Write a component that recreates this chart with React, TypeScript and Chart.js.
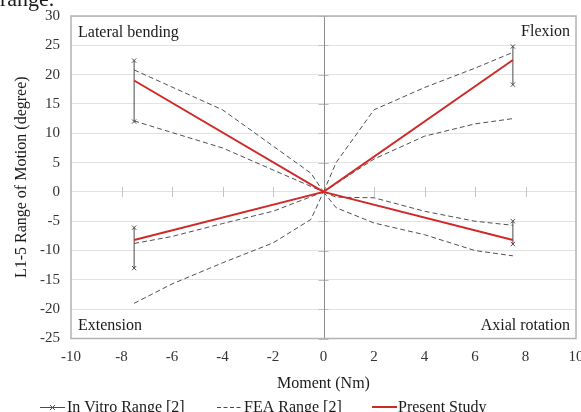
import React, { useEffect, useRef } from "react";
import { Chart, registerables } from "chart.js";

Chart.register(...registerables);

// ---- data ----
const presentX = [-7.5, 0, 7.5];
const presentLateralAxial = [19, 0, -8.2];
const presentExtensionFlexion = [-8.2, 0, 22.5];

const inVitroX = [-7.5, -7.5, 7.5, 7.5];
const inVitroLow = [12, -13, 18.3, -8.9];
const inVitroHigh = [22.4, -6.1, 24.8, -5.0];

const feaFlexUpperX = [0, 0.5, 2, 4, 6, 7.5];
const feaFlexUpperY = [0, 5, 14, 17.8, 21.1, 23.8];
const feaFlexLowerX = [0, 2, 4, 6, 7.5];
const feaFlexLowerY = [0, 5.6, 9.5, 11.6, 12.5];

const feaLatUpperX = [-7.5, -4, -0.5, 0];
const feaLatUpperY = [20.8, 14, 3.2, 0];
const feaLatLowerX = [-7.5, -4, 0];
const feaLatLowerY = [12.1, 7.5, 0];

const feaExtUpperX = [-7.5, -6, -4, -2, 0];
const feaExtUpperY = [-8.8, -7.6, -5.4, -3.3, 0];
const feaExtLowerX = [-7.5, -6, -4, -2, -0.5, 0];
const feaExtLowerY = [-19, -15.7, -12.1, -8.7, -4.7, 0];

const feaAxUpperX = [0, 0.5, 2, 4, 6, 7.5];
const feaAxUpperY = [0, -0.9, -1.0, -3.3, -5.0, -5.7];
const feaAxLowerX = [0, 0.5, 2, 4, 6, 7.5];
const feaAxLowerY = [0, -2.7, -5.3, -7.3, -10.0, -10.9];

const quadrantLabels = ["Lateral bending", "Flexion", "Extension", "Axial rotation"];
const legendLabels = ["In Vitro Range [2]", "FEA Range [2]", "Present Study"];
const xTitle = "Moment (Nm)";
const yTitle = "L1-5 Range of Motion (degree)";

const RED = "#cf2a2a";
const DARK = "#4a4a4a";
const FONT = "'Liberation Serif', 'Times New Roman', serif";

const pts = (xs: number[], ys: number[]) => xs.map((x, i) => ({ x, y: ys[i] }));

function inVitroPoints() {
  const out: any[] = [];
  inVitroX.forEach((x, i) => {
    if (i > 0) out.push({ x, y: null });
    out.push({ x, y: inVitroLow[i] });
    out.push({ x, y: inVitroHigh[i] });
  });
  return out;
}

const decor = {
  id: "decor",
  beforeDatasetsDraw(chart: any) {
    const { ctx, chartArea: a, scales } = chart;
    const xs = scales.x;
    const ys = scales.y;
    const x0 = xs.getPixelForValue(0);
    const y0 = ys.getPixelForValue(0);
    ctx.save();
    // x ticks along y=0
    ctx.strokeStyle = "#c4c4c4";
    ctx.lineWidth = 1;
    for (let v = -8; v <= 8; v += 2) {
      if (v === 0) continue;
      const px = Math.round(xs.getPixelForValue(v)) + 0.5;
      ctx.beginPath();
      ctx.moveTo(px, y0 - 5);
      ctx.lineTo(px, y0 + 5);
      ctx.stroke();
    }
    // y ticks along x=0
    ctx.strokeStyle = "#bdbdbd";
    for (let v = -25; v <= 30; v += 5) {
      const py = Math.round(ys.getPixelForValue(v)) + 0.5;
      ctx.beginPath();
      ctx.moveTo(x0 - 5, py);
      ctx.lineTo(x0 + 5, py);
      ctx.stroke();
    }
    // y axis at x=0
    ctx.strokeStyle = "#8c8c8c";
    ctx.beginPath();
    ctx.moveTo(Math.round(x0) + 0.5, a.top);
    ctx.lineTo(Math.round(x0) + 0.5, a.bottom);
    ctx.stroke();
    // frame
    ctx.strokeStyle = "#b3b3b3";
    ctx.lineWidth = 1.5;
    ctx.strokeRect(a.left, a.top, a.right - a.left, a.bottom - a.top);
    ctx.restore();
  },
  afterDraw(chart: any) {
    const { ctx, chartArea: a } = chart;
    ctx.save();
    ctx.fillStyle = "#1a1a1a";
    ctx.font = `16px ${FONT}`;
    ctx.textBaseline = "alphabetic";
    ctx.textAlign = "left";
    ctx.fillText(quadrantLabels[0], a.left + 7, a.top + 21);
    ctx.fillText(quadrantLabels[2], a.left + 7, a.bottom - 9);
    ctx.textAlign = "right";
    ctx.fillText(quadrantLabels[1], a.right - 6, a.top + 20);
    ctx.fillText(quadrantLabels[3], a.right - 6, a.bottom - 9);

    // top cut-off text
    ctx.textAlign = "left";
    ctx.font = `22px ${FONT}`;
    ctx.fillText("range.", 0, 6);

    // legend
    const ly = 407;
    const tb = 412;
    ctx.font = `16px ${FONT}`;
    ctx.lineWidth = 1;
    // in vitro
    ctx.strokeStyle = DARK;
    ctx.beginPath();
    ctx.moveTo(40, ly + 0.5);
    ctx.lineTo(65, ly + 0.5);
    ctx.stroke();
    ctx.beginPath();
    ctx.moveTo(50, ly - 2);
    ctx.lineTo(55, ly + 3);
    ctx.moveTo(55, ly - 2);
    ctx.lineTo(50, ly + 3);
    ctx.stroke();
    ctx.fillText(legendLabels[0], 67, tb);
    // fea
    ctx.setLineDash([4, 2.5]);
    ctx.beginPath();
    ctx.moveTo(217, ly + 0.5);
    ctx.lineTo(243, ly + 0.5);
    ctx.stroke();
    ctx.setLineDash([]);
    ctx.fillText(legendLabels[1], 244, tb);
    // present
    ctx.strokeStyle = RED;
    ctx.lineWidth = 2;
    ctx.beginPath();
    ctx.moveTo(372, ly);
    ctx.lineTo(397, ly);
    ctx.stroke();
    ctx.fillText(legendLabels[2], 398, tb);
    ctx.restore();
  },
};

export default function App() {
  const ref = useRef<HTMLCanvasElement>(null);
  useEffect(() => {
    document.body.style.margin = "0";
    const canvas = ref.current!;
    const fea = (data: any[]) => ({
      label: "FEA Range [2]",
      data,
      borderColor: "#505050",
      borderWidth: 1,
      borderDash: [5, 3],
      pointRadius: 0,
      showLine: true,
      fill: false,
    });
    const chart = new Chart(canvas, {
      type: "scatter",
      data: {
        datasets: [
          {
            label: "Present Study",
            data: pts(presentX, presentLateralAxial),
            borderColor: RED,
            borderWidth: 2,
            pointRadius: 0,
            showLine: true,
          },
          {
            label: "Present Study",
            data: pts(presentX, presentExtensionFlexion),
            borderColor: RED,
            borderWidth: 2,
            pointRadius: 0,
            showLine: true,
          },
          {
            label: "In Vitro Range [2]",
            data: inVitroPoints(),
            borderColor: DARK,
            backgroundColor: DARK,
            borderWidth: 1,
            pointStyle: "crossRot",
            pointRadius: 3,
            pointBorderWidth: 1,
            showLine: true,
            spanGaps: false,
          },
          fea(pts(feaFlexUpperX, feaFlexUpperY)),
          fea(pts(feaFlexLowerX, feaFlexLowerY)),
          fea(pts(feaLatUpperX, feaLatUpperY)),
          fea(pts(feaLatLowerX, feaLatLowerY)),
          fea(pts(feaExtUpperX, feaExtUpperY)),
          fea(pts(feaExtLowerX, feaExtLowerY)),
          fea(pts(feaAxUpperX, feaAxUpperY)),
          fea(pts(feaAxLowerX, feaAxLowerY)),
        ],
      },
      options: {
        animation: false,
        responsive: false,
        devicePixelRatio: 1,
        layout: { padding: { left: 0, right: 4, top: 16, bottom: 0 } },
        plugins: { legend: { display: false }, tooltip: { enabled: false } },
        scales: {
          x: {
            type: "linear",
            min: -10,
            max: 10,
            ticks: { stepSize: 2, color: "#333", font: { family: FONT, size: 15 }, padding: 10, maxRotation: 0 },
            grid: { display: false, drawTicks: false },
            border: { display: false },
            title: {
              display: true,
              text: xTitle,
              color: "#1a1a1a",
              font: { family: FONT, size: 16 },
              padding: { top: 4, bottom: 19 },
            },
            afterFit: (s: any) => {
              s.height = 73.5;
              s.paddingLeft = 0;
              s.paddingRight = 0;
            },
          },
          y: {
            type: "linear",
            min: -25,
            max: 30,
            ticks: { stepSize: 5, color: "#333", font: { family: FONT, size: 15 }, padding: 11 },
            grid: { color: "#e2e2e2", lineWidth: 1, drawTicks: false },
            border: { display: false },
            title: {
              display: true,
              text: yTitle,
              color: "#1a1a1a",
              font: { family: FONT, size: 16 },
              padding: { top: 12, bottom: 0 },
            },
            afterFit: (s: any) => {
              s.width = 71;
              s.paddingTop = 0;
              s.paddingBottom = 0;
            },
          },
        },
      },
      plugins: [decor],
    } as any);
    return () => chart.destroy();
  }, []);
  return <canvas ref={ref} width={581} height={412} style={{ display: "block", width: 581, height: 412 }} />;
}
